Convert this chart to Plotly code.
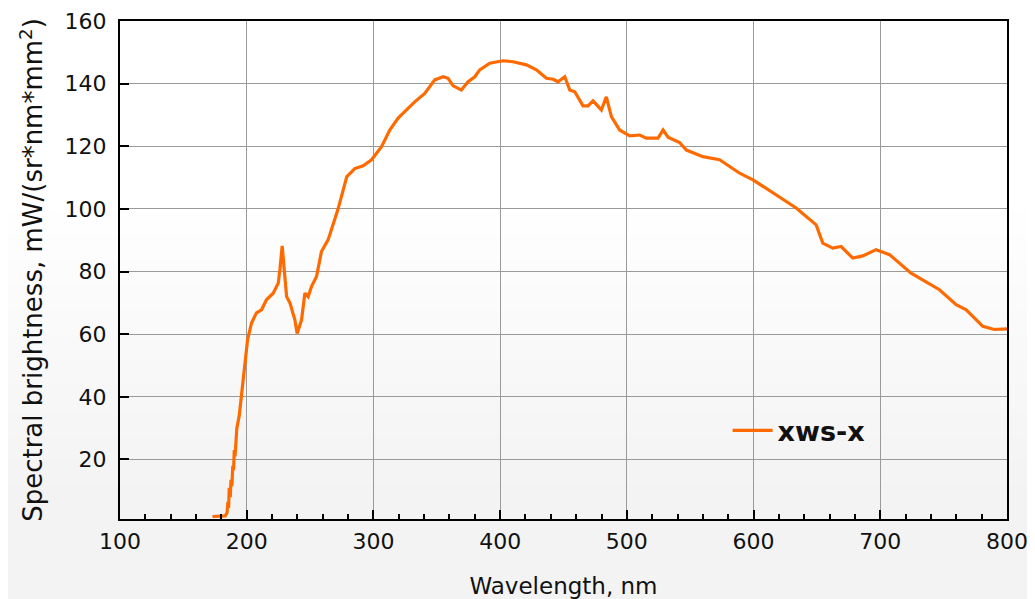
import plotly.graph_objects as go

# Data
wavelength = [173, 178, 183, 184.5, 185.2, 185.7, 186.2, 187.0, 187.6, 188.3, 189.0, 189.6, 190.2,
              190.8, 191.4, 192.2, 194.1, 196.5, 198.6, 200.7, 203.8, 207.7, 211.7, 215.6,
              220.9, 224.9, 226.2, 228.0, 229.6, 231.5, 234.1, 238.0, 239.8, 243.3, 245.9,
              248.5, 251.2, 255.1, 259.0, 264.3, 271.9, 279.0, 285.3, 291.9, 298.5, 306.4,
              312.9, 319.5, 326.1, 332.6, 340.5, 348.4, 355.0, 358.9, 362.9, 369.4, 374.7,
              380.0, 383.9, 391.8, 402.3, 410.2, 420.7, 428.6, 436.5, 441.8, 445.7, 451.0,
              454.9, 458.9, 465.4, 469.4, 473.3, 479.9, 483.8, 487.8, 494.3, 502.2, 510.1,
              515.4, 524.6, 528.6, 532.5, 541.6, 547.0, 560.0, 573.2, 589.0, 599.5, 617.9,
              633.6, 649.4, 654.6, 662.5, 669.1, 678.3, 686.2, 696.7, 707.3, 724.3, 746.7,
              759.9, 767.8, 780.9, 790.0, 799.3, 800.0]
brightness = [1.8, 1.8, 2.0, 3.0, 6.5, 4.5, 11.0, 8.0, 13.5, 11.5, 18.0, 16.5, 23.0,
              21.0, 28.0, 30.0, 34.0, 42.3, 50.8, 58.3, 63.6, 66.8, 67.8, 71.0,
              73.1, 76.3, 80.6, 88.2, 80.6, 72.0, 70.0, 64.6, 60.2, 64.6, 73.1,
              72.0, 75.3, 78.4, 86.4, 90.2, 99.7, 110.3, 112.9, 113.8, 115.7, 119.9,
              125.2, 129.0, 131.6, 134.2, 136.9, 141.2, 142.2, 141.7, 139.3, 138.0, 140.6,
              142.2, 144.4, 146.5, 147.3, 147.0, 146.0, 144.4, 141.7, 141.4, 140.6, 142.2,
              138.0, 137.4, 132.9, 132.9, 134.5, 131.6, 135.8, 129.5, 125.2, 123.3, 123.6,
              122.6, 122.6, 125.2, 122.9, 121.2, 118.8, 116.7, 115.7, 111.4, 109.3, 104.5,
              100.3, 94.9, 89.1, 87.5, 88.0, 84.3, 85.0, 87.0, 85.4, 79.5, 74.2,
              69.4, 67.8, 62.5, 61.5, 61.7, 62.0]
series_name = "xws-x"
x_ticks = [100, 200, 300, 400, 500, 600, 700, 800]
y_ticks = [20, 40, 60, 80, 100, 120, 140, 160]

FONT = "DejaVu Sans, Verdana, sans-serif"

fig = go.Figure()
fig.add_trace(go.Scatter(
    x=wavelength, y=brightness, mode="lines", name=series_name,
    line=dict(color="#ff6a00", width=3.2),
))

# faint grey backdrop in the lower part (decorative texture in the original)
bg_shapes = []
n_steps = 12
for i in range(n_steps):
    y_top = 0.62 - i * 0.05
    bg_shapes.append(dict(type="rect", xref="paper", yref="paper",
                          x0=-0.15, x1=1.05, y0=-0.25, y1=y_top,
                          fillcolor="rgba(0,0,0,0.005)", line=dict(width=0),
                          layer="below"))

# page body has an 8px margin: compensate so the plot area lands where the reference has it
fig.update_layout(
    width=1027, height=591,
    margin=dict(l=112, r=28, t=13, b=80, autoexpand=False),
    paper_bgcolor="white", plot_bgcolor="rgba(0,0,0,0)",
    font=dict(family=FONT, size=22, color="#111"),
    showlegend=True,
    shapes=bg_shapes,
    legend=dict(x=0.685, y=0.177, xanchor="left", yanchor="middle",
                bgcolor="rgba(0,0,0,0)",
                font=dict(size=27, color="#111", weight="bold"),
                itemwidth=40),
)
fig.update_xaxes(
    range=[100, 800], tickvals=x_ticks, ticktext=[str(v) for v in x_ticks],
    showgrid=True, gridcolor="#9a9a9a", gridwidth=1,
    showline=True, linecolor="black", linewidth=2, mirror=True,
    ticks="inside", ticklen=9, tickwidth=1.5, tickcolor="black",
    minor=dict(dtick=20, ticks="inside", ticklen=5, tickwidth=1.5, tickcolor="black", showgrid=False),
    zeroline=False, automargin=False, ticklabelstandoff=2,
    title=dict(text="Wavelength, nm", font=dict(size=23), standoff=28),
    tickfont=dict(size=22),
)
fig.update_yaxes(
    range=[1, 160], tickvals=y_ticks, ticktext=[str(v) for v in y_ticks],
    showgrid=True, gridcolor="#9a9a9a", gridwidth=1,
    showline=True, linecolor="black", linewidth=2, mirror=True,
    ticks="inside", ticklen=9, tickwidth=1.5, tickcolor="black",
    zeroline=False, automargin=False, ticklabelstandoff=7,
    title=dict(text="Spectral brightness, mW/(sr*nm*mm<sup>2</sup>)", font=dict(size=26), standoff=14),
    tickfont=dict(size=22),
)

fig.write_html("out.html")
